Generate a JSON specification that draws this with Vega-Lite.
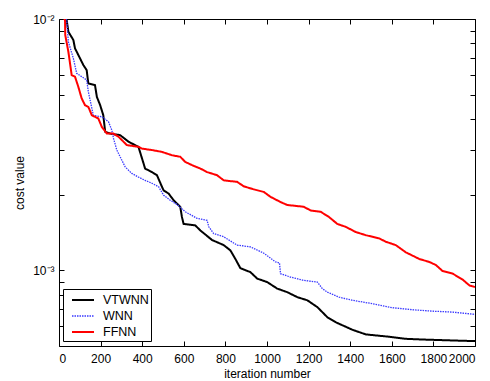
{
  "$schema": "https://vega.github.io/schema/vega-lite/v6.json",
  "width": 416,
  "height": 327,
  "autosize": "none",
  "padding": {"left": 59, "top": 19, "right": 15, "bottom": 35},
  "background": "white",
  "config": {
    "view": {"stroke": null},
    "font": "Liberation Sans",
    "axis": {
      "grid": false,
      "domainColor": "black",
      "domainWidth": 1,
      "tickColor": "black",
      "tickSize": -5,
      "labelColor": "black",
      "labelFontSize": 12,
      "labelOverlap": false,
      "titleColor": "black",
      "titleFontSize": 12,
      "titleFontWeight": "normal"
    }
  },
  "data": {
    "values": [
      {"s": "VTWNN", "it": 10, "v": 0.0105},
      {"s": "VTWNN", "it": 37, "v": 0.0099},
      {"s": "VTWNN", "it": 45, "v": 0.0089},
      {"s": "VTWNN", "it": 69, "v": 0.00825},
      {"s": "VTWNN", "it": 77, "v": 0.00764},
      {"s": "VTWNN", "it": 93, "v": 0.00719},
      {"s": "VTWNN", "it": 117, "v": 0.00656},
      {"s": "VTWNN", "it": 133, "v": 0.00626},
      {"s": "VTWNN", "it": 141, "v": 0.00554},
      {"s": "VTWNN", "it": 173, "v": 0.00546},
      {"s": "VTWNN", "it": 182, "v": 0.0049},
      {"s": "VTWNN", "it": 198, "v": 0.00454},
      {"s": "VTWNN", "it": 213, "v": 0.00414},
      {"s": "VTWNN", "it": 222, "v": 0.00356},
      {"s": "VTWNN", "it": 246, "v": 0.0035},
      {"s": "VTWNN", "it": 294, "v": 0.00345},
      {"s": "VTWNN", "it": 334, "v": 0.00325},
      {"s": "VTWNN", "it": 382, "v": 0.0031},
      {"s": "VTWNN", "it": 399, "v": 0.00279},
      {"s": "VTWNN", "it": 414, "v": 0.00254},
      {"s": "VTWNN", "it": 447, "v": 0.00246},
      {"s": "VTWNN", "it": 471, "v": 0.00239},
      {"s": "VTWNN", "it": 495, "v": 0.00215},
      {"s": "VTWNN", "it": 503, "v": 0.00208},
      {"s": "VTWNN", "it": 527, "v": 0.00202},
      {"s": "VTWNN", "it": 551, "v": 0.0019},
      {"s": "VTWNN", "it": 583, "v": 0.00179},
      {"s": "VTWNN", "it": 591, "v": 0.00163},
      {"s": "VTWNN", "it": 599, "v": 0.00153},
      {"s": "VTWNN", "it": 655, "v": 0.00151},
      {"s": "VTWNN", "it": 680, "v": 0.00144},
      {"s": "VTWNN", "it": 736, "v": 0.00132},
      {"s": "VTWNN", "it": 792, "v": 0.00126},
      {"s": "VTWNN", "it": 824, "v": 0.0012},
      {"s": "VTWNN", "it": 848, "v": 0.00111},
      {"s": "VTWNN", "it": 872, "v": 0.00102},
      {"s": "VTWNN", "it": 920, "v": 0.000984},
      {"s": "VTWNN", "it": 953, "v": 0.000927},
      {"s": "VTWNN", "it": 1001, "v": 0.000898},
      {"s": "VTWNN", "it": 1049, "v": 0.000846},
      {"s": "VTWNN", "it": 1097, "v": 0.000819},
      {"s": "VTWNN", "it": 1146, "v": 0.000782},
      {"s": "VTWNN", "it": 1194, "v": 0.00076},
      {"s": "VTWNN", "it": 1242, "v": 0.000714},
      {"s": "VTWNN", "it": 1290, "v": 0.000651},
      {"s": "VTWNN", "it": 1330, "v": 0.000622},
      {"s": "VTWNN", "it": 1354, "v": 0.000609},
      {"s": "VTWNN", "it": 1411, "v": 0.00058},
      {"s": "VTWNN", "it": 1475, "v": 0.000556},
      {"s": "VTWNN", "it": 1571, "v": 0.000546},
      {"s": "VTWNN", "it": 1667, "v": 0.000534},
      {"s": "VTWNN", "it": 1764, "v": 0.00053},
      {"s": "VTWNN", "it": 1893, "v": 0.000526},
      {"s": "VTWNN", "it": 2000, "v": 0.000523},

      {"s": "WNN", "it": 10, "v": 0.0105},
      {"s": "WNN", "it": 37, "v": 0.0099},
      {"s": "WNN", "it": 45, "v": 0.00812},
      {"s": "WNN", "it": 69, "v": 0.00697},
      {"s": "WNN", "it": 85, "v": 0.00608},
      {"s": "WNN", "it": 133, "v": 0.00572},
      {"s": "WNN", "it": 141, "v": 0.00514},
      {"s": "WNN", "it": 158, "v": 0.00441},
      {"s": "WNN", "it": 165, "v": 0.00414},
      {"s": "WNN", "it": 206, "v": 0.00408},
      {"s": "WNN", "it": 238, "v": 0.0039},
      {"s": "WNN", "it": 254, "v": 0.00361},
      {"s": "WNN", "it": 262, "v": 0.00335},
      {"s": "WNN", "it": 278, "v": 0.00301},
      {"s": "WNN", "it": 294, "v": 0.00283},
      {"s": "WNN", "it": 318, "v": 0.00258},
      {"s": "WNN", "it": 350, "v": 0.00243},
      {"s": "WNN", "it": 382, "v": 0.00235},
      {"s": "WNN", "it": 414, "v": 0.00228},
      {"s": "WNN", "it": 447, "v": 0.00222},
      {"s": "WNN", "it": 479, "v": 0.00215},
      {"s": "WNN", "it": 503, "v": 0.00199},
      {"s": "WNN", "it": 535, "v": 0.0019},
      {"s": "WNN", "it": 567, "v": 0.00183},
      {"s": "WNN", "it": 607, "v": 0.00171},
      {"s": "WNN", "it": 664, "v": 0.00161},
      {"s": "WNN", "it": 712, "v": 0.00158},
      {"s": "WNN", "it": 720, "v": 0.00149},
      {"s": "WNN", "it": 744, "v": 0.0014},
      {"s": "WNN", "it": 792, "v": 0.00136},
      {"s": "WNN", "it": 856, "v": 0.00126},
      {"s": "WNN", "it": 920, "v": 0.00124},
      {"s": "WNN", "it": 985, "v": 0.00117},
      {"s": "WNN", "it": 1041, "v": 0.00108},
      {"s": "WNN", "it": 1060, "v": 0.00107},
      {"s": "WNN", "it": 1065, "v": 0.00097},
      {"s": "WNN", "it": 1113, "v": 0.00094},
      {"s": "WNN", "it": 1177, "v": 0.000912},
      {"s": "WNN", "it": 1242, "v": 0.000898},
      {"s": "WNN", "it": 1266, "v": 0.000846},
      {"s": "WNN", "it": 1290, "v": 0.000819},
      {"s": "WNN", "it": 1346, "v": 0.000782},
      {"s": "WNN", "it": 1411, "v": 0.00076},
      {"s": "WNN", "it": 1507, "v": 0.000737},
      {"s": "WNN", "it": 1603, "v": 0.00071},
      {"s": "WNN", "it": 1700, "v": 0.000697},
      {"s": "WNN", "it": 1796, "v": 0.000688},
      {"s": "WNN", "it": 1893, "v": 0.000682},
      {"s": "WNN", "it": 2000, "v": 0.000668},

      {"s": "FFNN", "it": 10, "v": 0.0105},
      {"s": "FFNN", "it": 29, "v": 0.0099},
      {"s": "FFNN", "it": 30, "v": 0.00864},
      {"s": "FFNN", "it": 45, "v": 0.00741},
      {"s": "FFNN", "it": 61, "v": 0.00598},
      {"s": "FFNN", "it": 77, "v": 0.00589},
      {"s": "FFNN", "it": 93, "v": 0.00537},
      {"s": "FFNN", "it": 109, "v": 0.00483},
      {"s": "FFNN", "it": 125, "v": 0.00454},
      {"s": "FFNN", "it": 141, "v": 0.00447},
      {"s": "FFNN", "it": 158, "v": 0.00414},
      {"s": "FFNN", "it": 189, "v": 0.00402},
      {"s": "FFNN", "it": 206, "v": 0.00372},
      {"s": "FFNN", "it": 230, "v": 0.0035},
      {"s": "FFNN", "it": 262, "v": 0.0035},
      {"s": "FFNN", "it": 286, "v": 0.0034},
      {"s": "FFNN", "it": 310, "v": 0.00325},
      {"s": "FFNN", "it": 326, "v": 0.00315},
      {"s": "FFNN", "it": 382, "v": 0.0031},
      {"s": "FFNN", "it": 399, "v": 0.00305},
      {"s": "FFNN", "it": 447, "v": 0.00301},
      {"s": "FFNN", "it": 495, "v": 0.00296},
      {"s": "FFNN", "it": 543, "v": 0.00287},
      {"s": "FFNN", "it": 583, "v": 0.00283},
      {"s": "FFNN", "it": 607, "v": 0.0027},
      {"s": "FFNN", "it": 640, "v": 0.00262},
      {"s": "FFNN", "it": 680, "v": 0.00254},
      {"s": "FFNN", "it": 712, "v": 0.00246},
      {"s": "FFNN", "it": 760, "v": 0.00239},
      {"s": "FFNN", "it": 792, "v": 0.00228},
      {"s": "FFNN", "it": 856, "v": 0.00225},
      {"s": "FFNN", "it": 888, "v": 0.00216},
      {"s": "FFNN", "it": 936, "v": 0.0021},
      {"s": "FFNN", "it": 985, "v": 0.00205},
      {"s": "FFNN", "it": 1017, "v": 0.00196},
      {"s": "FFNN", "it": 1065, "v": 0.00187},
      {"s": "FFNN", "it": 1097, "v": 0.00182},
      {"s": "FFNN", "it": 1177, "v": 0.00179},
      {"s": "FFNN", "it": 1210, "v": 0.00173},
      {"s": "FFNN", "it": 1258, "v": 0.00171},
      {"s": "FFNN", "it": 1298, "v": 0.00163},
      {"s": "FFNN", "it": 1338, "v": 0.00153},
      {"s": "FFNN", "it": 1378, "v": 0.00149},
      {"s": "FFNN", "it": 1427, "v": 0.00142},
      {"s": "FFNN", "it": 1475, "v": 0.00138},
      {"s": "FFNN", "it": 1539, "v": 0.00134},
      {"s": "FFNN", "it": 1571, "v": 0.0013},
      {"s": "FFNN", "it": 1619, "v": 0.00126},
      {"s": "FFNN", "it": 1667, "v": 0.00118},
      {"s": "FFNN", "it": 1732, "v": 0.00111},
      {"s": "FFNN", "it": 1780, "v": 0.00108},
      {"s": "FFNN", "it": 1812, "v": 0.00105},
      {"s": "FFNN", "it": 1844, "v": 0.000994},
      {"s": "FFNN", "it": 1893, "v": 0.00097},
      {"s": "FFNN", "it": 1941, "v": 0.000918},
      {"s": "FFNN", "it": 1973, "v": 0.000871},
      {"s": "FFNN", "it": 2000, "v": 0.000858}
    ]
  },
  "layer": [
    {
      "mark": {"type": "line", "clip": true, "interpolate": "linear"},
      "encoding": {
        "x": {
          "field": "it", "type": "quantitative",
          "scale": {"domain": [0, 2000], "nice": false},
          "axis": {"title": "iteration number", "format": "d", "values": [0,200,400,600,800,1000,1200,1400,1600,1800,2000], "labelPadding": 12, "titlePadding": 4}
        },
        "y": {
          "field": "v", "type": "quantitative",
          "scale": {"type": "log", "domain": [0.0005, 0.01], "nice": false},
          "axis": {
            "title": "cost value",
            "values": [0.0005,0.0006,0.0007,0.0008,0.0009,0.001,0.002,0.003,0.004,0.005,0.006,0.007,0.008,0.009,0.01],
            "labelExpr": "datum.value == 0.01 ? '10⁻²' : (datum.value == 0.001 ? '10⁻³' : '')",
            "labelPadding": 10,
            "titlePadding": 6
          }
        },
        "color": {
          "field": "s", "type": "nominal",
          "scale": {"domain": ["VTWNN", "WNN", "FFNN"], "range": ["black", "#3a3aff", "#ff0000"]},
          "legend": {
            "title": null,
            "orient": "none",
            "legendX": 4,
            "legendY": 270,
            "symbolType": "M-0.25,0H2.5",
            "symbolSize": 256,
            "symbolStrokeWidth": 2,
            "labelFontSize": 12.5,
            "labelColor": "black",
            "labelOffset": 20,
            "rowPadding": 0,
            "padding": 2,
            "strokeColor": "black",
            "fillColor": "white",
            "cornerRadius": 0
          }
        },
        "strokeDash": {
          "field": "s", "type": "nominal",
          "scale": {"domain": ["VTWNN", "WNN", "FFNN"], "range": [[1, 0], [1.5, 1], [1, 0]]},
          "legend": null
        },
        "strokeWidth": {
          "field": "s", "type": "nominal",
          "scale": {"type": "ordinal", "domain": ["VTWNN", "WNN", "FFNN"], "range": [2, 1.3, 2]},
          "legend": null
        }
      }
    },
    {
      "mark": {"type": "point", "opacity": 0},
      "encoding": {
        "x": {
          "field": "it", "type": "quantitative",
          "axis": {"orient": "top", "title": null, "labels": false, "values": [0,200,400,600,800,1000,1200,1400,1600,1800,2000]}
        },
        "y": {
          "field": "v", "type": "quantitative",
          "axis": {"orient": "right", "title": null, "labels": false, "values": [0.0005,0.0006,0.0007,0.0008,0.0009,0.001,0.002,0.003,0.004,0.005,0.006,0.007,0.008,0.009,0.01]}
        }
      }
    }
  ],
  "resolve": {"axis": {"x": "independent", "y": "independent"}}
}
